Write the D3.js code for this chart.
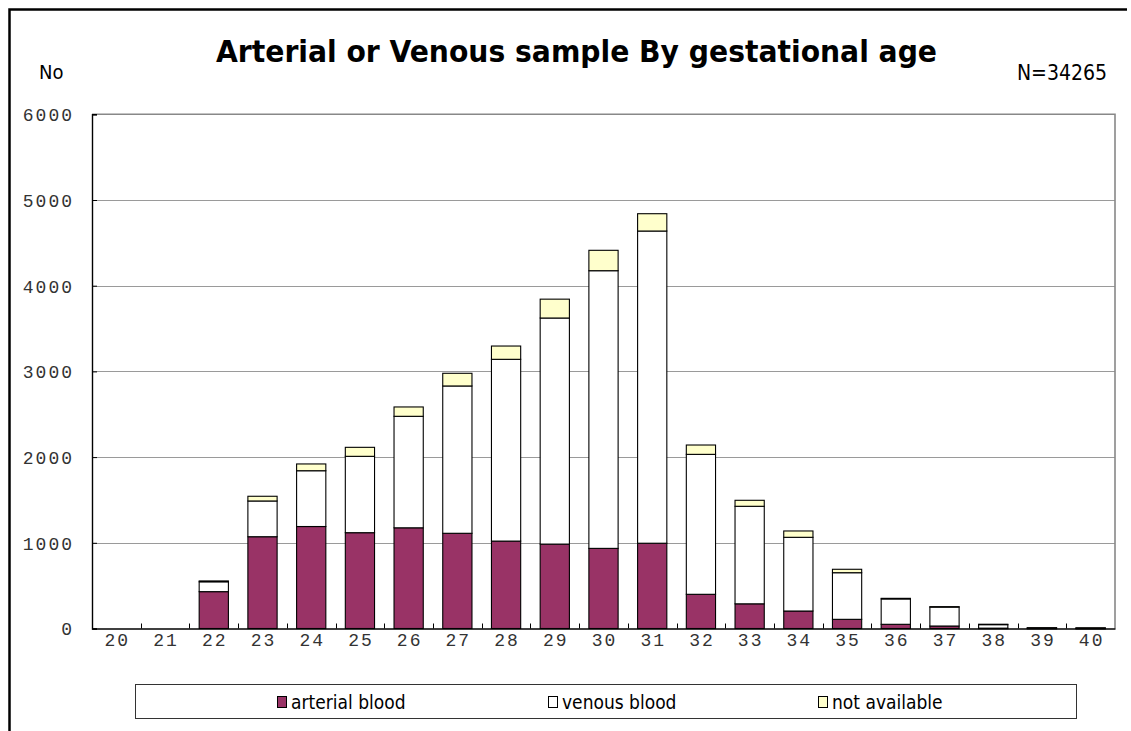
<!DOCTYPE html>
<html>
<head>
<meta charset="utf-8">
<script src="https://cdn.jsdelivr.net/npm/d3@7/dist/d3.min.js"></script>
<style>
  html, body { margin: 0; padding: 0; background: #fff; }
  svg { display: block; }
</style>
</head>
<body>
<svg id="chart" width="1131" height="731"></svg>
<script>
// Gestational age categories (weeks)
const ages = ["20","21","22","23","24","25","26","27","28","29","30","31","32","33","34","35","36","37","38","39","40"];
// Counts per sample type
const arterial = [0, 0, 430, 1071, 1190, 1118, 1175, 1111, 1020, 985, 935, 995, 399, 288, 204, 107, 49, 29, 4, 2, 1];
const venous   = [0, 0, 115, 417, 651, 891, 1301, 1719, 2121, 2638, 3240, 3643, 1633, 1138, 860, 544, 296, 221, 43, 6, 5];
const notAvail = [0, 0, 10, 55, 79, 105, 109, 148, 155, 220, 238, 202, 109, 70, 74, 40, 7, 5, 2, 1, 1];
const seriesNames = ["arterial blood", "venous blood", "not available"];
const seriesColors = ["#993366", "#ffffff", "#ffffcc"];
const yTicks = [0, 1000, 2000, 3000, 4000, 5000, 6000];
const titleText = "Arterial or Venous sample By gestational age";
const totalLabel = "N=34265";
const yUnit = "No";

const svg = d3.select("#chart");
const W = 1131, H = 731;
const plot = { left: 92, right: 1115, top: 114.3, bottom: 628.5 };

// outer frame (top and left edges visible)
svg.append("path")
  .attr("d", `M9.5,${H + 5} L9.5,9.5 L1127,9.5`)
  .attr("fill", "none").attr("stroke", "#000").attr("stroke-width", 2.5);

// title, fitted to its width
const title = svg.append("text")
  .attr("x", 576.5).attr("y", 62)
  .attr("text-anchor", "middle")
  .attr("font-family", "'DejaVu Sans Condensed', 'DejaVu Sans', sans-serif")
  .attr("font-stretch", "condensed")
  .attr("font-weight", "bold")
  .attr("font-size", 31)
  .attr("fill", "#000")
  .text(titleText);
const tw = title.node().getComputedTextLength();
if (Math.abs(tw - 721) > 4) {
  title.attr("textLength", 721).attr("lengthAdjust", "spacingAndGlyphs");
}

const labelFont = "'DejaVu Sans Condensed', 'DejaVu Sans', sans-serif";
svg.append("text")
  .attr("x", 39).attr("y", 79)
  .attr("font-family", labelFont).attr("font-stretch", "condensed")
  .attr("font-size", 20).attr("fill", "#000")
  .text(yUnit);
svg.append("text")
  .attr("x", 1107).attr("y", 79.5)
  .attr("text-anchor", "end")
  .attr("font-family", labelFont).attr("font-stretch", "condensed")
  .attr("font-size", 21).attr("fill", "#000")
  .text(totalLabel);

// scales
const x = d3.scaleBand().domain(ages).range([plot.left, plot.right])
  .paddingInner(0.4).paddingOuter(0.2);
const xCat = d3.scaleBand().domain(ages).range([plot.left, plot.right]).padding(0);
const y = d3.scaleLinear().domain([0, 6000]).range([plot.bottom, plot.top]);

// gridlines
svg.append("g").selectAll("line")
  .data(yTicks.filter(v => v > 0 && v < 6000))
  .join("line")
  .attr("x1", plot.left).attr("x2", plot.right)
  .attr("y1", d => Math.round(y(d)) + 0.5).attr("y2", d => Math.round(y(d)) + 0.5)
  .attr("stroke", "#9a9a9a").attr("stroke-width", 1);

// plot border top and right
svg.append("path")
  .attr("d", `M${plot.left},${plot.top} L${plot.right},${plot.top} L${plot.right},${plot.bottom}`)
  .attr("fill", "none").attr("stroke", "#888").attr("stroke-width", 1.6);

// stacked bars
const rows = ages.map((a, i) => ({ age: a, s0: arterial[i], s1: venous[i], s2: notAvail[i] }));
const stack = d3.stack().keys(["s0", "s1", "s2"]);
const layers = stack(rows);

svg.append("g").selectAll("g")
  .data(layers)
  .join("g")
  .attr("fill", (d, i) => seriesColors[i])
  .selectAll("rect")
  .data(d => d.filter(p => p[1] - p[0] > 0))
  .join("rect")
  .attr("x", d => x(d.data.age))
  .attr("width", x.bandwidth())
  .attr("y", d => y(d[1]))
  .attr("height", d => Math.max(0.5, y(d[0]) - y(d[1])))
  .attr("stroke", "#000").attr("stroke-width", 1.1);

// y axis
const yAxis = d3.axisLeft(y).tickValues(yTicks).tickSize(-5).tickPadding(18).tickFormat(d3.format("d"));
const gy = svg.append("g").attr("transform", `translate(${plot.left},0)`).call(yAxis);
gy.select(".domain").attr("stroke", "#000").attr("stroke-width", 1.4);
gy.selectAll(".tick line").attr("stroke", "#000");
gy.selectAll(".tick text")
  .attr("font-family", "'Liberation Mono', 'DejaVu Sans Mono', monospace")
  .attr("font-size", 18).attr("letter-spacing", 2).attr("fill", "#333")
  .attr("dy", "0.36em");

// x axis
const xAxis = d3.axisBottom(x).tickSize(0).tickPadding(5);
const gx = svg.append("g").attr("transform", `translate(0,${plot.bottom})`).call(xAxis);
gx.select(".domain").attr("stroke", "#000").attr("stroke-width", 1.6);
gx.selectAll(".tick text")
  .attr("font-family", "'Liberation Mono', 'DejaVu Sans Mono', monospace")
  .attr("font-size", 18).attr("letter-spacing", 2).attr("fill", "#333")
  .attr("dx", 1);

// category separator ticks pointing up
svg.append("g").selectAll("line")
  .data(ages.slice(1))
  .join("line")
  .attr("x1", d => Math.round(xCat(d)) + 0.5).attr("x2", d => Math.round(xCat(d)) + 0.5)
  .attr("y1", plot.bottom).attr("y2", plot.bottom - 5)
  .attr("stroke", "#000").attr("stroke-width", 1);

// legend
const legend = svg.append("g");
legend.append("rect")
  .attr("x", 135.5).attr("y", 684.5).attr("width", 941).attr("height", 34)
  .attr("fill", "#fff").attr("stroke", "#333").attr("stroke-width", 1);
const legendX = [277, 548, 818];
const li = legend.selectAll("g.item")
  .data(seriesNames)
  .join("g").attr("class", "item")
  .attr("transform", (d, i) => `translate(${legendX[i]},0)`);
li.append("rect")
  .attr("x", 0.5).attr("y", 696.5).attr("width", 9).attr("height", 11)
  .attr("fill", (d, i) => seriesColors[i]).attr("stroke", "#000").attr("stroke-width", 1);
li.append("text")
  .attr("x", 14).attr("y", 709)
  .attr("font-family", labelFont).attr("font-stretch", "condensed")
  .attr("font-size", 19).attr("fill", "#000")
  .text(d => d);
</script>
</body>
</html>
